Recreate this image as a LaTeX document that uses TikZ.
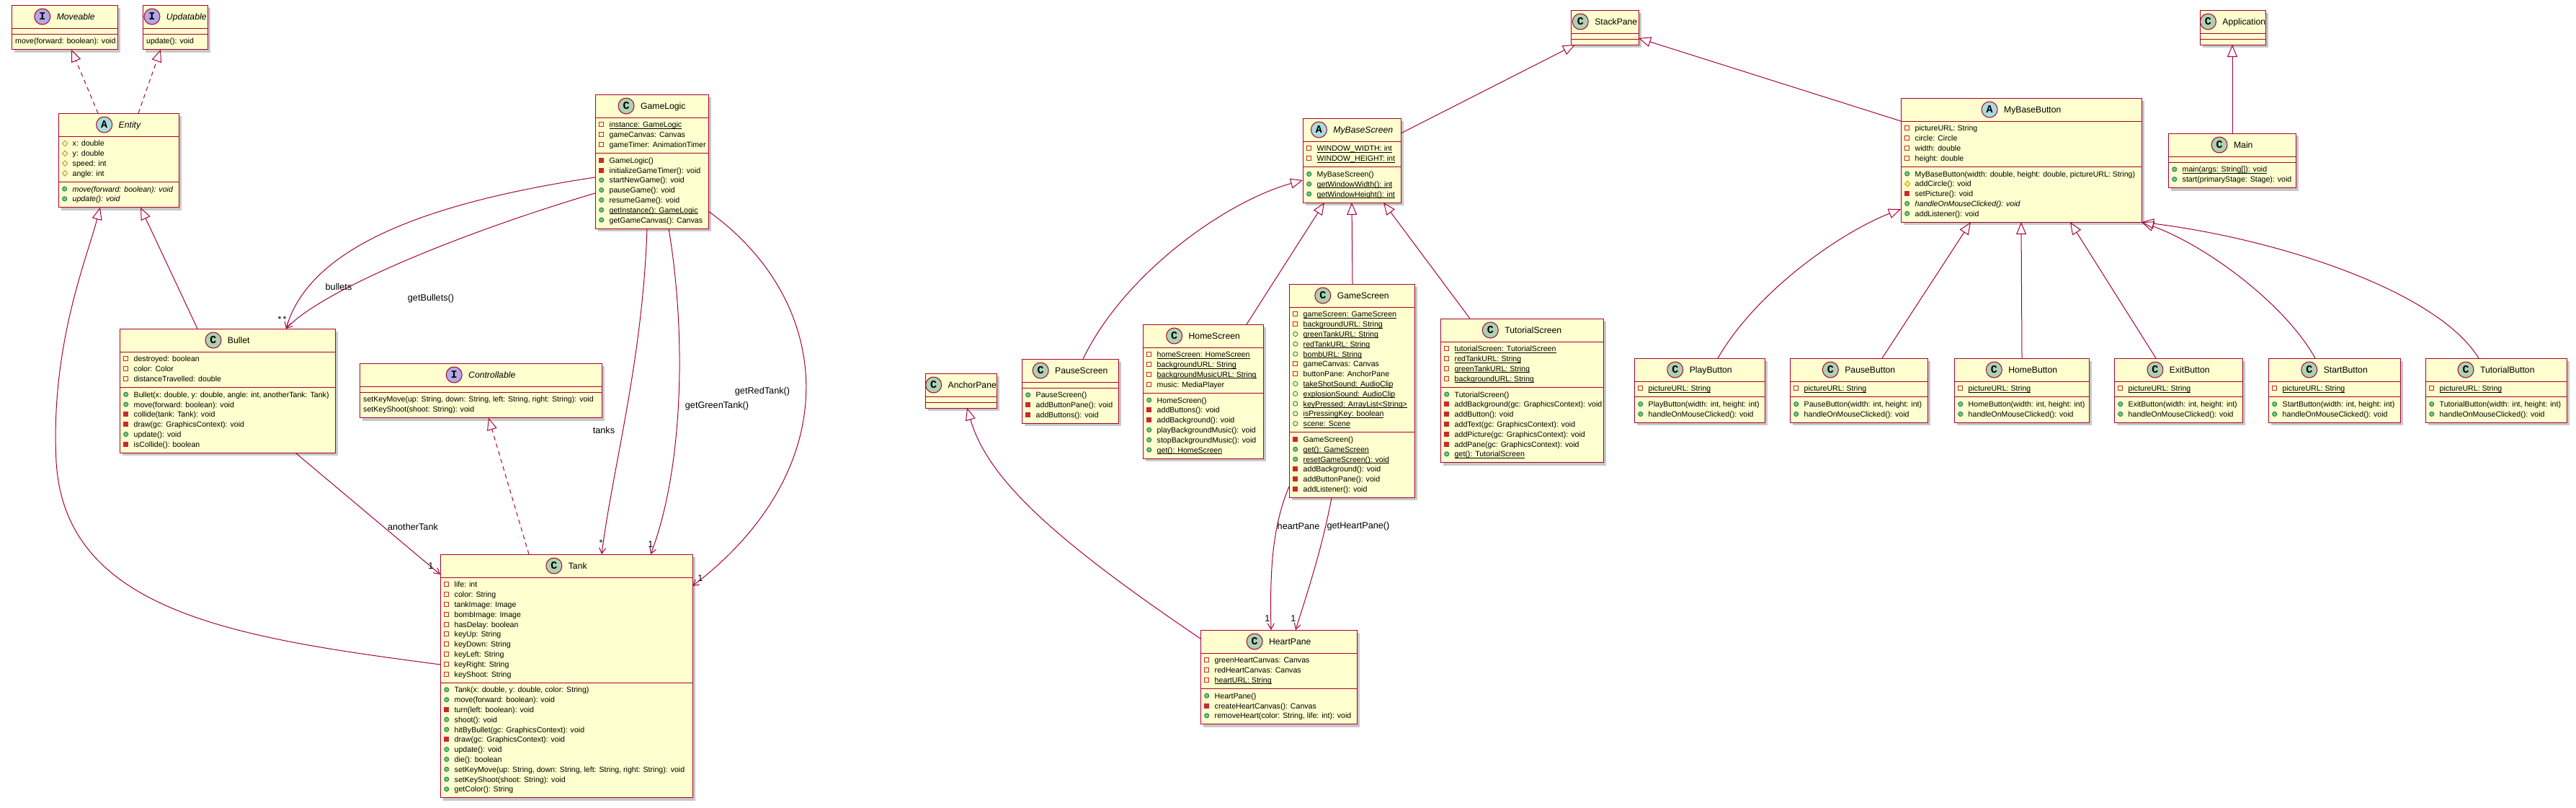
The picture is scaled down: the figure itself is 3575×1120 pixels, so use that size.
\documentclass[tikz,border=0pt]{standalone}
\usepackage{fontspec}
\setmainfont{Liberation Sans}
\newfontfamily\iconfont{Liberation Mono}
\usetikzlibrary{arrows.meta,shadows,calc}
\definecolor{clsfill}{HTML}{FEFECE}
\definecolor{bordc}{HTML}{A80036}
\definecolor{iconC}{HTML}{ADD1B2}
\definecolor{iconA}{HTML}{A9DCDF}
\definecolor{iconI}{HTML}{B4A7E5}
\definecolor{privc}{HTML}{C82930}
\definecolor{pubc}{HTML}{038048}
\definecolor{pubf}{HTML}{84BE84}
\definecolor{protc}{HTML}{B38D22}
\definecolor{protf}{HTML}{FFFF44}
\newcommand\memfont{\fontsize{10.6}{13.8}\selectfont}
\newcommand\namefont{\fontsize{12.2}{14}\selectfont}
\newcommand\lblfont{\fontsize{12.7}{15}\selectfont}
\newcommand\vPF{\tikz[baseline=0pt,x=1pt,y=1pt]\draw[draw=privc,line width=0.8pt] (0.5,1) rectangle (6.5,7);}
\newcommand\vPM{\tikz[baseline=0pt,x=1pt,y=1pt]\filldraw[fill=privc,draw=privc,line width=0.8pt] (0.5,1) rectangle (6.5,7);}
\newcommand\vUF{\tikz[baseline=0pt,x=1pt,y=1pt]\draw[draw=pubc,line width=0.8pt] (3.5,4) circle (3.1);}
\newcommand\vUM{\tikz[baseline=0pt,x=1pt,y=1pt]\filldraw[fill=pubf,draw=pubc,line width=0.8pt] (3.5,4) circle (3.1);}
\newcommand\vOF{\tikz[baseline=0pt,x=1pt,y=1pt]\draw[draw=protc,line width=0.8pt] (3.8,0) -- (7.4,3.8) -- (3.8,7.6) -- (0.2,3.8) -- cycle;}
\newcommand\vOM{\tikz[baseline=0pt,x=1pt,y=1pt]\filldraw[fill=protf,draw=protc,line width=0.8pt] (3.8,0) -- (7.4,3.8) -- (3.8,7.6) -- (0.2,3.8) -- cycle;}
\newcommand\mem[2]{\makebox[14.5pt][l]{#1}#2\strut}
\newcommand\uln[1]{\setbox0\hbox{#1}\rlap{\rule[-1.8pt]{\wd0}{0.8pt}}\box0}
\newcommand\hicon[2]{\tikz[baseline=-4pt,x=1pt,y=1pt]{\filldraw[fill=#1,draw=bordc,line width=1pt] (0,0) circle (11);\node[inner sep=0pt,font=\iconfont\bfseries\fontsize{15}{15}\selectfont] at (0,0.3) {#2};}}
\newcommand\umlbox[9]{%
 \pgfmathsetmacro\ya{#3+32}%
 \pgfmathsetmacro\yb{\ya+#5*13.8+8}%
 \pgfmathsetmacro\yc{\yb+#6*13.8+8}%
 \pgfmathsetmacro\hh{\yc-#3}%
 \node[clsbox, minimum width=#4pt, minimum height=\hh pt, anchor=north west] (#1) at (#2,#3) {};%
 \draw[divl] (#2,\ya) -- ++(#4,0);%
 \draw[divl] (#2,\yb) -- ++(#4,0);%
 \node[hdr] (#1-t) at ({#2+#4/2},{#3+16}) {\hicon{#7}{#8}\hspace{8.5pt}#9};%
 \coordinate (#1-f) at ({#2+5},{\ya+4});%
 \coordinate (#1-m) at ({#2+5},{\yb+4});%
}
\begin{document}
\begin{tikzpicture}[x=1pt,y=-1pt,
  clsbox/.style={draw=bordc,fill=clsfill,line width=1pt,rectangle,inner sep=0pt,outer sep=0pt,drop shadow={shadow xshift=4pt,shadow yshift=-4pt,opacity=0.3,fill=black!70}},
  divl/.style={draw=bordc,line width=1pt},
  hdr/.style={inner sep=0pt,font=\namefont},
  memb/.style={anchor=north west,inner sep=0pt,font=\memfont,align=left},
  gen/.style={draw=bordc,line width=1pt,-{Triangle[open,length=17pt,width=14pt]}},
  real/.style={gen,dash pattern=on 6pt off 5pt},
  assoc/.style={draw=bordc,line width=1pt,-{Straight Barb[length=8pt,width=9pt]}},
  lbl/.style={inner sep=0pt,font=\lblfont},
]
\useasboundingbox (0,0) rectangle (3575,1120);
\fill[white] (0,0) rectangle (3575,1120);

% ---------- left group ----------
\umlbox{moveable}{16}{7}{147}{0}{1}{iconI}{I}{\textit{Moveable}}
\node[memb] (moveable-ml) at (moveable-m) {move(forward: boolean): void\strut};

\umlbox{updatable}{198}{7}{90}{0}{1}{iconI}{I}{\textit{Updatable}}
\node[memb] (updatable-ml) at (updatable-m) {update(): void\strut};

\umlbox{entity}{81}{157}{167}{4}{2}{iconA}{A}{\textit{Entity}}
\node[memb] (entity-fl) at (entity-f) {\mem\vOF{x: double}\\\mem\vOF{y: double}\\\mem\vOF{speed: int}\\\mem\vOF{angle: int}};
\node[memb] (entity-ml) at (entity-m) {\mem\vUM{\textit{move(forward: boolean): void}}\\\mem\vUM{\textit{update(): void}}};

\umlbox{gamelogic}{826}{131}{157}{3}{7}{iconC}{C}{GameLogic}
\node[memb] (gamelogic-fl) at (gamelogic-f) {\mem\vPF{\uln{instance: GameLogic}}\\\mem\vPF{gameCanvas: Canvas}\\\mem\vPF{gameTimer: AnimationTimer}};
\node[memb] (gamelogic-ml) at (gamelogic-m) {\mem\vPM{GameLogic()}\\\mem\vPM{initializeGameTimer(): void}\\\mem\vUM{startNewGame(): void}\\\mem\vUM{pauseGame(): void}\\\mem\vUM{resumeGame(): void}\\\mem\vUM{\uln{getInstance(): GameLogic}}\\\mem\vUM{getGameCanvas(): Canvas}};

\umlbox{bullet}{166}{456}{299}{3}{6}{iconC}{C}{Bullet}
\node[memb] (bullet-fl) at (bullet-f) {\mem\vPF{destroyed: boolean}\\\mem\vPF{color: Color}\\\mem\vPF{distanceTravelled: double}};
\node[memb] (bullet-ml) at (bullet-m) {\mem\vUM{Bullet(x: double, y: double, angle: int, anotherTank: Tank)}\\\mem\vUM{move(forward: boolean): void}\\\mem\vPM{collide(tank: Tank): void}\\\mem\vPM{draw(gc: GraphicsContext): void}\\\mem\vUM{update(): void}\\\mem\vPM{isCollide(): boolean}};

\umlbox{controllable}{499}{504}{336}{0}{2}{iconI}{I}{\textit{Controllable}}
\node[memb] (controllable-ml) at (controllable-m) {setKeyMove(up: String, down: String, left: String, right: String): void\strut\\setKeyShoot(shoot: String): void\strut};

\umlbox{tank}{611}{769}{350}{10}{11}{iconC}{C}{Tank}
\node[memb] (tank-fl) at (tank-f) {\mem\vPF{life: int}\\\mem\vPF{color: String}\\\mem\vPF{tankImage: Image}\\\mem\vPF{bombImage: Image}\\\mem\vPF{hasDelay: boolean}\\\mem\vPF{keyUp: String}\\\mem\vPF{keyDown: String}\\\mem\vPF{keyLeft: String}\\\mem\vPF{keyRight: String}\\\mem\vPF{keyShoot: String}};
\node[memb] (tank-ml) at (tank-m) {\mem\vUM{Tank(x: double, y: double, color: String)}\\\mem\vUM{move(forward: boolean): void}\\\mem\vPM{turn(left: boolean): void}\\\mem\vUM{shoot(): void}\\\mem\vUM{hitByBullet(gc: GraphicsContext): void}\\\mem\vPM{draw(gc: GraphicsContext): void}\\\mem\vUM{update(): void}\\\mem\vUM{die(): boolean}\\\mem\vUM{setKeyMove(up: String, down: String, left: String, right: String): void}\\\mem\vUM{setKeyShoot(shoot: String): void}\\\mem\vUM{getColor(): String}};

% ---------- screens ----------
\umlbox{stackpane}{2180}{14}{94}{0}{0}{iconC}{C}{StackPane}

\umlbox{mybasescreen}{1808}{164}{136}{2}{3}{iconA}{A}{\textit{MyBaseScreen}}
\node[memb] (mybasescreen-fl) at (mybasescreen-f) {\mem\vPF{\uln{WINDOW\_WIDTH: int}}\\\mem\vPF{\uln{WINDOW\_HEIGHT: int}}};
\node[memb] (mybasescreen-ml) at (mybasescreen-m) {\mem\vUM{MyBaseScreen()}\\\mem\vUM{\uln{getWindowWidth(): int}}\\\mem\vUM{\uln{getWindowHeight(): int}}};

\umlbox{pausescreen}{1418}{498}{134}{0}{3}{iconC}{C}{PauseScreen}
\node[memb] (pausescreen-ml) at (pausescreen-m) {\mem\vUM{PauseScreen()}\\\mem\vPM{addButtonPane(): void}\\\mem\vPM{addButtons(): void}};

\umlbox{homescreen}{1586}{450}{167}{4}{6}{iconC}{C}{HomeScreen}
\node[memb] (homescreen-fl) at (homescreen-f) {\mem\vPF{\uln{homeScreen: HomeScreen}}\\\mem\vPF{\uln{backgroundURL: String}}\\\mem\vPF{\uln{backgroundMusicURL: String}}\\\mem\vPF{music: MediaPlayer}};
\node[memb] (homescreen-ml) at (homescreen-m) {\mem\vUM{HomeScreen()}\\\mem\vPM{addButtons(): void}\\\mem\vPM{addBackground(): void}\\\mem\vUM{playBackgroundMusic(): void}\\\mem\vUM{stopBackgroundMusic(): void}\\\mem\vUM{\uln{get(): HomeScreen}}};

\umlbox{gamescreen}{1789}{394}{174}{12}{6}{iconC}{C}{GameScreen}
\node[memb] (gamescreen-fl) at (gamescreen-f) {\mem\vPF{\uln{gameScreen: GameScreen}}\\\mem\vPF{\uln{backgroundURL: String}}\\\mem\vUF{\uln{greenTankURL: String}}\\\mem\vUF{\uln{redTankURL: String}}\\\mem\vUF{\uln{bombURL: String}}\\\mem\vPF{gameCanvas: Canvas}\\\mem\vPF{buttonPane: AnchorPane}\\\mem\vUF{\uln{takeShotSound: AudioClip}}\\\mem\vUF{\uln{explosionSound: AudioClip}}\\\mem\vUF{\uln{keyPressed: ArrayList<String>}}\\\mem\vUF{\uln{isPressingKey: boolean}}\\\mem\vUF{\uln{scene: Scene}}};
\node[memb] (gamescreen-ml) at (gamescreen-m) {\mem\vPM{GameScreen()}\\\mem\vUM{\uln{get(): GameScreen}}\\\mem\vUM{\uln{resetGameScreen(): void}}\\\mem\vPM{addBackground(): void}\\\mem\vPM{addButtonPane(): void}\\\mem\vPM{addListener(): void}};

\umlbox{tutorialscreen}{1999}{442}{226}{4}{7}{iconC}{C}{TutorialScreen}
\node[memb] (tutorialscreen-fl) at (tutorialscreen-f) {\mem\vPF{\uln{tutorialScreen: TutorialScreen}}\\\mem\vPF{\uln{redTankURL: String}}\\\mem\vPF{\uln{greenTankURL: String}}\\\mem\vPF{\uln{backgroundURL: String}}};
\node[memb] (tutorialscreen-ml) at (tutorialscreen-m) {\mem\vUM{TutorialScreen()}\\\mem\vPM{addBackground(gc: GraphicsContext): void}\\\mem\vPM{addButton(): void}\\\mem\vPM{addText(gc: GraphicsContext): void}\\\mem\vPM{addPicture(gc: GraphicsContext): void}\\\mem\vPM{addPane(gc: GraphicsContext): void}\\\mem\vUM{\uln{get(): TutorialScreen}}};

\umlbox{anchorpane}{1284}{518}{99}{0}{0}{iconC}{C}{AnchorPane}

\umlbox{heartpane}{1666}{874}{217}{3}{3}{iconC}{C}{HeartPane}
\node[memb] (heartpane-fl) at (heartpane-f) {\mem\vPF{greenHeartCanvas: Canvas}\\\mem\vPF{redHeartCanvas: Canvas}\\\mem\vPF{\uln{heartURL: String}}};
\node[memb] (heartpane-ml) at (heartpane-m) {\mem\vUM{HeartPane()}\\\mem\vPM{createHeartCanvas(): Canvas}\\\mem\vUM{removeHeart(color: String, life: int): void}};

% ---------- buttons ----------
\umlbox{mybasebutton}{2638}{136}{334}{4}{5}{iconA}{A}{MyBaseButton}
\node[memb] (mybasebutton-fl) at (mybasebutton-f) {\mem\vPF{pictureURL: String}\\\mem\vPF{circle: Circle}\\\mem\vPF{width: double}\\\mem\vPF{height: double}};
\node[memb] (mybasebutton-ml) at (mybasebutton-m) {\mem\vUM{MyBaseButton(width: double, height: double, pictureURL: String)}\\\mem\vOM{addCircle(): void}\\\mem\vPM{setPicture(): void}\\\mem\vUM{\textit{handleOnMouseClicked(): void}}\\\mem\vUM{addListener(): void}};

\umlbox{application}{3053}{14}{91}{0}{0}{iconC}{C}{Application}

\umlbox{main}{3009}{185}{177}{0}{2}{iconC}{C}{Main}
\node[memb] (main-ml) at (main-m) {\mem\vUM{\uln{main(args: String[]): void}}\\\mem\vUM{start(primaryStage: Stage): void}};

\umlbox{playbutton}{2268}{497}{181}{1}{2}{iconC}{C}{PlayButton}
\node[memb] (playbutton-fl) at (playbutton-f) {\mem\vPF{\uln{pictureURL: String}}};
\node[memb] (playbutton-ml) at (playbutton-m) {\mem\vUM{PlayButton(width: int, height: int)}\\\mem\vUM{handleOnMouseClicked(): void}};

\umlbox{pausebutton}{2484}{497}{191}{1}{2}{iconC}{C}{PauseButton}
\node[memb] (pausebutton-fl) at (pausebutton-f) {\mem\vPF{\uln{pictureURL: String}}};
\node[memb] (pausebutton-ml) at (pausebutton-m) {\mem\vUM{PauseButton(width: int, height: int)}\\\mem\vUM{handleOnMouseClicked(): void}};

\umlbox{homebutton}{2712}{497}{187}{1}{2}{iconC}{C}{HomeButton}
\node[memb] (homebutton-fl) at (homebutton-f) {\mem\vPF{\uln{pictureURL: String}}};
\node[memb] (homebutton-ml) at (homebutton-m) {\mem\vUM{HomeButton(width: int, height: int)}\\\mem\vUM{handleOnMouseClicked(): void}};

\umlbox{exitbutton}{2934}{497}{178}{1}{2}{iconC}{C}{ExitButton}
\node[memb] (exitbutton-fl) at (exitbutton-f) {\mem\vPF{\uln{pictureURL: String}}};
\node[memb] (exitbutton-ml) at (exitbutton-m) {\mem\vUM{ExitButton(width: int, height: int)}\\\mem\vUM{handleOnMouseClicked(): void}};

\umlbox{startbutton}{3148}{497}{183}{1}{2}{iconC}{C}{StartButton}
\node[memb] (startbutton-fl) at (startbutton-f) {\mem\vPF{\uln{pictureURL: String}}};
\node[memb] (startbutton-ml) at (startbutton-m) {\mem\vUM{StartButton(width: int, height: int)}\\\mem\vUM{handleOnMouseClicked(): void}};

\umlbox{tutorialbutton}{3366}{497}{196}{1}{2}{iconC}{C}{TutorialButton}
\node[memb] (tutorialbutton-fl) at (tutorialbutton-f) {\mem\vPF{\uln{pictureURL: String}}};
\node[memb] (tutorialbutton-ml) at (tutorialbutton-m) {\mem\vUM{TutorialButton(width: int, height: int)}\\\mem\vUM{handleOnMouseClicked(): void}};

% ---------- connectors: left ----------
\draw[real] ($(entity.north west)+(55,0)$) -- ($(moveable.south west)+(83,0)$);
\draw[real] ($(entity.north west)+(111,0)$) -- ($(updatable.south west)+(25,0)$);
\draw[gen] ($(bullet.north west)+(108,0)$) -- ($(entity.south west)+(114,0)$);
\draw[gen] ($(tank.north west)+(0,153)$) .. controls (330,885) and (90,850) .. (78,640) .. controls (70,480) and (120,360) .. ($(entity.south west)+(58,0)$);
\draw[real] ($(tank.north west)+(123,0)$) -- ($(controllable.south west)+(179,0)$);

\draw[assoc] ($(gamelogic.north west)+(0,115)$) .. controls (600,280) and (430,340) .. ($(bullet.north west)+(231,0)$);
\draw[assoc] ($(gamelogic.north west)+(0,137)$) .. controls (650,320) and (450,400) .. ($(bullet.north west)+(231,0)$);
\draw[assoc] ($(gamelogic.south west)+(72,0)$) .. controls (892,500) and (850,650) .. ($(tank.north west)+(224,0)$);
\draw[assoc] ($(gamelogic.south west)+(102,0)$) .. controls (955,480) and (945,660) .. ($(tank.north west)+(292,0)$);
\draw[assoc] ($(gamelogic.north east)+(0,162)$) .. controls (1160,420) and (1175,650) .. ($(tank.north east)+(0,44)$);
\draw[assoc] ($(bullet.south west)+(244,0)$) -- ($(tank.north west)+(0,28)$);

\node[lbl] (l-bullets) at (470,398) {bullets};
\node[lbl] (l-getbullets) at (598,414) {getBullets()};
\node[lbl] (m-b1) at (388,443) {*};
\node[lbl] (m-b2) at (395,443) {*};
\node[lbl] (l-tanks) at (838,597) {tanks};
\node[lbl] (l-green) at (995,563) {getGreenTank()};
\node[lbl] (l-red) at (1058,543) {getRedTank()};
\node[lbl] (l-another) at (573,731) {anotherTank};
\node[lbl] (m-t1) at (598,785) {1};
\node[lbl] (m-t2) at (834,753) {*};
\node[lbl] (m-t3) at (903,755) {1};
\node[lbl] (m-t4) at (972,802) {1};

% ---------- connectors: screens ----------
\draw[gen] ($(mybasescreen.north east)+(0,21)$) -- ($(stackpane.south west)+(6,0)$);
\draw[gen] ($(mybasebutton.north west)+(0,32)$) -- ($(stackpane.south east)+(0,-9)$);
\draw[gen] ($(pausescreen.north west)+(85,0)$) .. controls (1560,380) and (1700,280) .. ($(mybasescreen.north west)+(0,86)$);
\draw[gen] ($(homescreen.north west)+(144,0)$) -- ($(mybasescreen.south west)+(30,0)$);
\draw[gen] ($(gamescreen.north west)+(88,0)$) -- ($(mybasescreen.south west)+(68,0)$);
\draw[gen] ($(tutorialscreen.north west)+(41,0)$) -- ($(mybasescreen.south west)+(112,0)$);
\draw[gen] ($(heartpane.north west)+(0,12)$) .. controls (1450,740) and (1370,660) .. ($(anchorpane.south west)+(58,0)$);
\draw[assoc] ($(gamescreen.north west)+(0,281)$) .. controls (1766,730) and (1762,790) .. ($(heartpane.north west)+(98,0)$);
\draw[assoc] ($(gamescreen.south west)+(59,0)$) .. controls (1835,760) and (1815,820) .. ($(heartpane.north west)+(132,0)$);
\node[lbl] (l-heart) at (1802,730) {heartPane};
\node[lbl] (l-getheart) at (1885,730) {getHeartPane()};
\node[lbl] (m-h1) at (1759,858) {1};
\node[lbl] (m-h2) at (1795,858) {1};

% ---------- connectors: buttons ----------
\draw[gen] ($(main.north west)+(89,0)$) -- ($(application.south west)+(45,0)$);
\draw[gen] ($(playbutton.north west)+(116,0)$) .. controls (2440,400) and (2560,320) .. ($(mybasebutton.south west)+(0,-18)$);
\draw[gen] ($(pausebutton.north west)+(128,0)$) -- ($(mybasebutton.south west)+(97,0)$);
\draw[gen] ($(homebutton.north west)+(94,0)$) -- ($(mybasebutton.south west)+(167,0)$);
\draw[gen] ($(exitbutton.north west)+(58,0)$) -- ($(mybasebutton.south west)+(235,0)$);
\draw[gen] ($(startbutton.north west)+(65,0)$) .. controls (3170,420) and (3060,340) .. (mybasebutton.south east);
\draw[gen] ($(tutorialbutton.north west)+(74,0)$) .. controls (3380,400) and (3150,330) .. (mybasebutton.south east);
\end{tikzpicture}
\end{document}
